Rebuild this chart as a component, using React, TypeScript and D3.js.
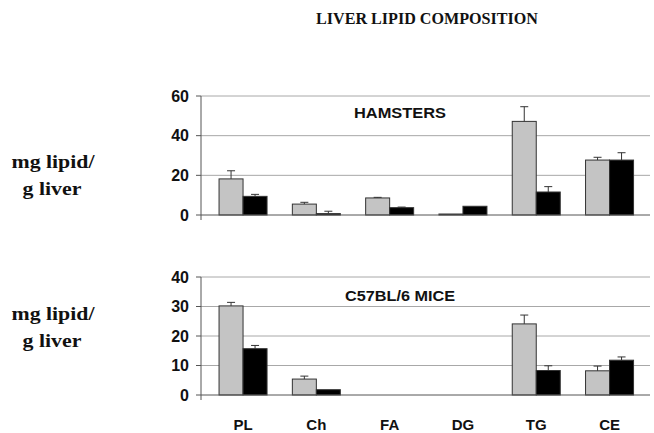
import React from "react";
import * as d3 from "d3";

const categories = ["PL", "Ch", "FA", "DG", "TG", "CE"];

// hamsters: gray / black means and error tops (SD)
const hamGray = [18.2, 5.5, 8.6, 0.5, 47.2, 27.7];
const hamGrayErr = [4.1, 0.9, 0.3, 0, 7.4, 1.4];
const hamBlack = [9.4, 0.7, 3.7, 4.4, 11.6, 27.7];
const hamBlackErr = [1.0, 1.2, 0.3, 0, 2.7, 3.7];

// C57BL/6 mice
const miceGray = [30.2, 5.4, 0, 0, 24.1, 8.2];
const miceGrayErr = [1.2, 1.0, 0, 0, 3.0, 1.6];
const miceBlack = [15.7, 1.8, 0, 0, 8.3, 11.8];
const miceBlackErr = [1.1, 0, 0, 0, 1.6, 1.1];

const hamTicks = [0, 20, 40, 60];
const miceTicks = [0, 10, 20, 30, 40];

const W = 654;
const H = 433;
const axisX = 201;
const rightX = 650;

const x = d3.scaleBand<string>().domain(categories).range([206.4, 646.2]);
const barW = 24;

interface PanelProps {
  title: string;
  gray: number[];
  grayErr: number[];
  black: number[];
  blackErr: number[];
  ticks: number[];
  y: d3.ScaleLinear<number, number>;
  titleY: number;
  titleLen: number;
}

const Panel = ({ title, gray, grayErr, black, blackErr, ticks, y, titleY, titleLen }: PanelProps) => {
  const y0 = y(0);
  const series = [
    { vals: gray, err: grayErr, fill: "#c4c4c4", off: -barW },
    { vals: black, err: blackErr, fill: "#000", off: 0 },
  ];
  return (
    <g>
      {ticks.slice(1).map((t) => (
        <line key={"g" + t} x1={axisX} x2={rightX} y1={y(t)} y2={y(t)} stroke="#a8a8a8" strokeWidth={1} />
      ))}
      {ticks.map((t) => (
        <g key={"t" + t}>
          <line x1={axisX - 5} x2={axisX} y1={y(t)} y2={y(t)} stroke="#555" />
          <text
            x={189}
            y={y(t)}
            dy="0.36em"
            textAnchor="end"
            fontFamily="Liberation Sans, Arial, sans-serif"
            fontWeight="bold"
            fontSize={16}
            fill="#111"
          >
            {t}
          </text>
        </g>
      ))}
      {series.map((s, si) =>
        categories.map((c, i) => {
          const v = s.vals[i];
          if (v <= 0) return null;
          const cx = (x(c) ?? 0) + x.bandwidth() / 2 + s.off;
          const e = s.err[i];
          return (
            <g key={si + c}>
              <rect x={cx} y={y(v)} width={barW} height={y0 - y(v)} fill={s.fill} stroke="#333" strokeWidth={1} />
              {e > 0 && (
                <g stroke="#333" strokeWidth={1}>
                  <line x1={cx + barW / 2} x2={cx + barW / 2} y1={y(v)} y2={y(v + e)} />
                  <line x1={cx + barW / 2 - 4} x2={cx + barW / 2 + 4} y1={y(v + e)} y2={y(v + e)} />
                </g>
              )}
            </g>
          );
        })
      )}
      <line x1={axisX} x2={axisX} y1={y(ticks[ticks.length - 1])} y2={y0 + 5} stroke="#555" />
      <line x1={axisX} x2={rightX} y1={y0} y2={y0} stroke="#555" />
      <text
        x={400}
        y={titleY}
        dy="0.36em"
        textAnchor="middle"
        fontFamily="Liberation Sans, Arial, sans-serif"
        fontWeight="bold"
        fontSize={14.5}
        textLength={titleLen}
        lengthAdjust="spacingAndGlyphs"
        fill="#111"
      >
        {title}
      </text>
    </g>
  );
};

const SideLabel = ({ yTop }: { yTop: number }) => (
  <g fontFamily="Liberation Serif, Times New Roman, serif" fontWeight="bold" fontSize={18.5} fill="#111" textAnchor="middle">
    <text x={53} y={yTop} dy="0.36em" textLength={83} lengthAdjust="spacingAndGlyphs">
      mg lipid/
    </text>
    <text x={52} y={yTop + 27} dy="0.36em" textLength={59} lengthAdjust="spacingAndGlyphs">
      g liver
    </text>
  </g>
);

export default function App() {
  const yHam = d3.scaleLinear().domain([0, 60]).range([215, 96]);
  const yMice = d3.scaleLinear().domain([0, 40]).range([395, 277]);
  return (
    <svg width={W} height={H} style={{ position: "absolute", left: 0, top: 0, background: "#fff" }}>
      <text
        x={427}
        y={18}
        dy="0.36em"
        textAnchor="middle"
        fontFamily="Liberation Serif, Times New Roman, serif"
        fontWeight="bold"
        fontSize={16.5}
        textLength={222}
        lengthAdjust="spacingAndGlyphs"
        fill="#111"
      >
        LIVER LIPID COMPOSITION
      </text>
      <SideLabel yTop={161} />
      <SideLabel yTop={313} />
      <Panel
        title="HAMSTERS"
        gray={hamGray}
        grayErr={hamGrayErr}
        black={hamBlack}
        blackErr={hamBlackErr}
        ticks={hamTicks}
        y={yHam}
        titleY={113}
        titleLen={92}
      />
      <Panel
        title="C57BL/6 MICE"
        gray={miceGray}
        grayErr={miceGrayErr}
        black={miceBlack}
        blackErr={miceBlackErr}
        ticks={miceTicks}
        y={yMice}
        titleY={296}
        titleLen={110}
      />
      {categories.map((c) => (
        <text
          key={c}
          x={(x(c) ?? 0) + x.bandwidth() / 2}
          y={425}
          dy="0.36em"
          textAnchor="middle"
          fontFamily="Liberation Sans, Arial, sans-serif"
          fontWeight="bold"
          fontSize={15}
          fill="#111"
        >
          {c}
        </text>
      ))}
    </svg>
  );
}
